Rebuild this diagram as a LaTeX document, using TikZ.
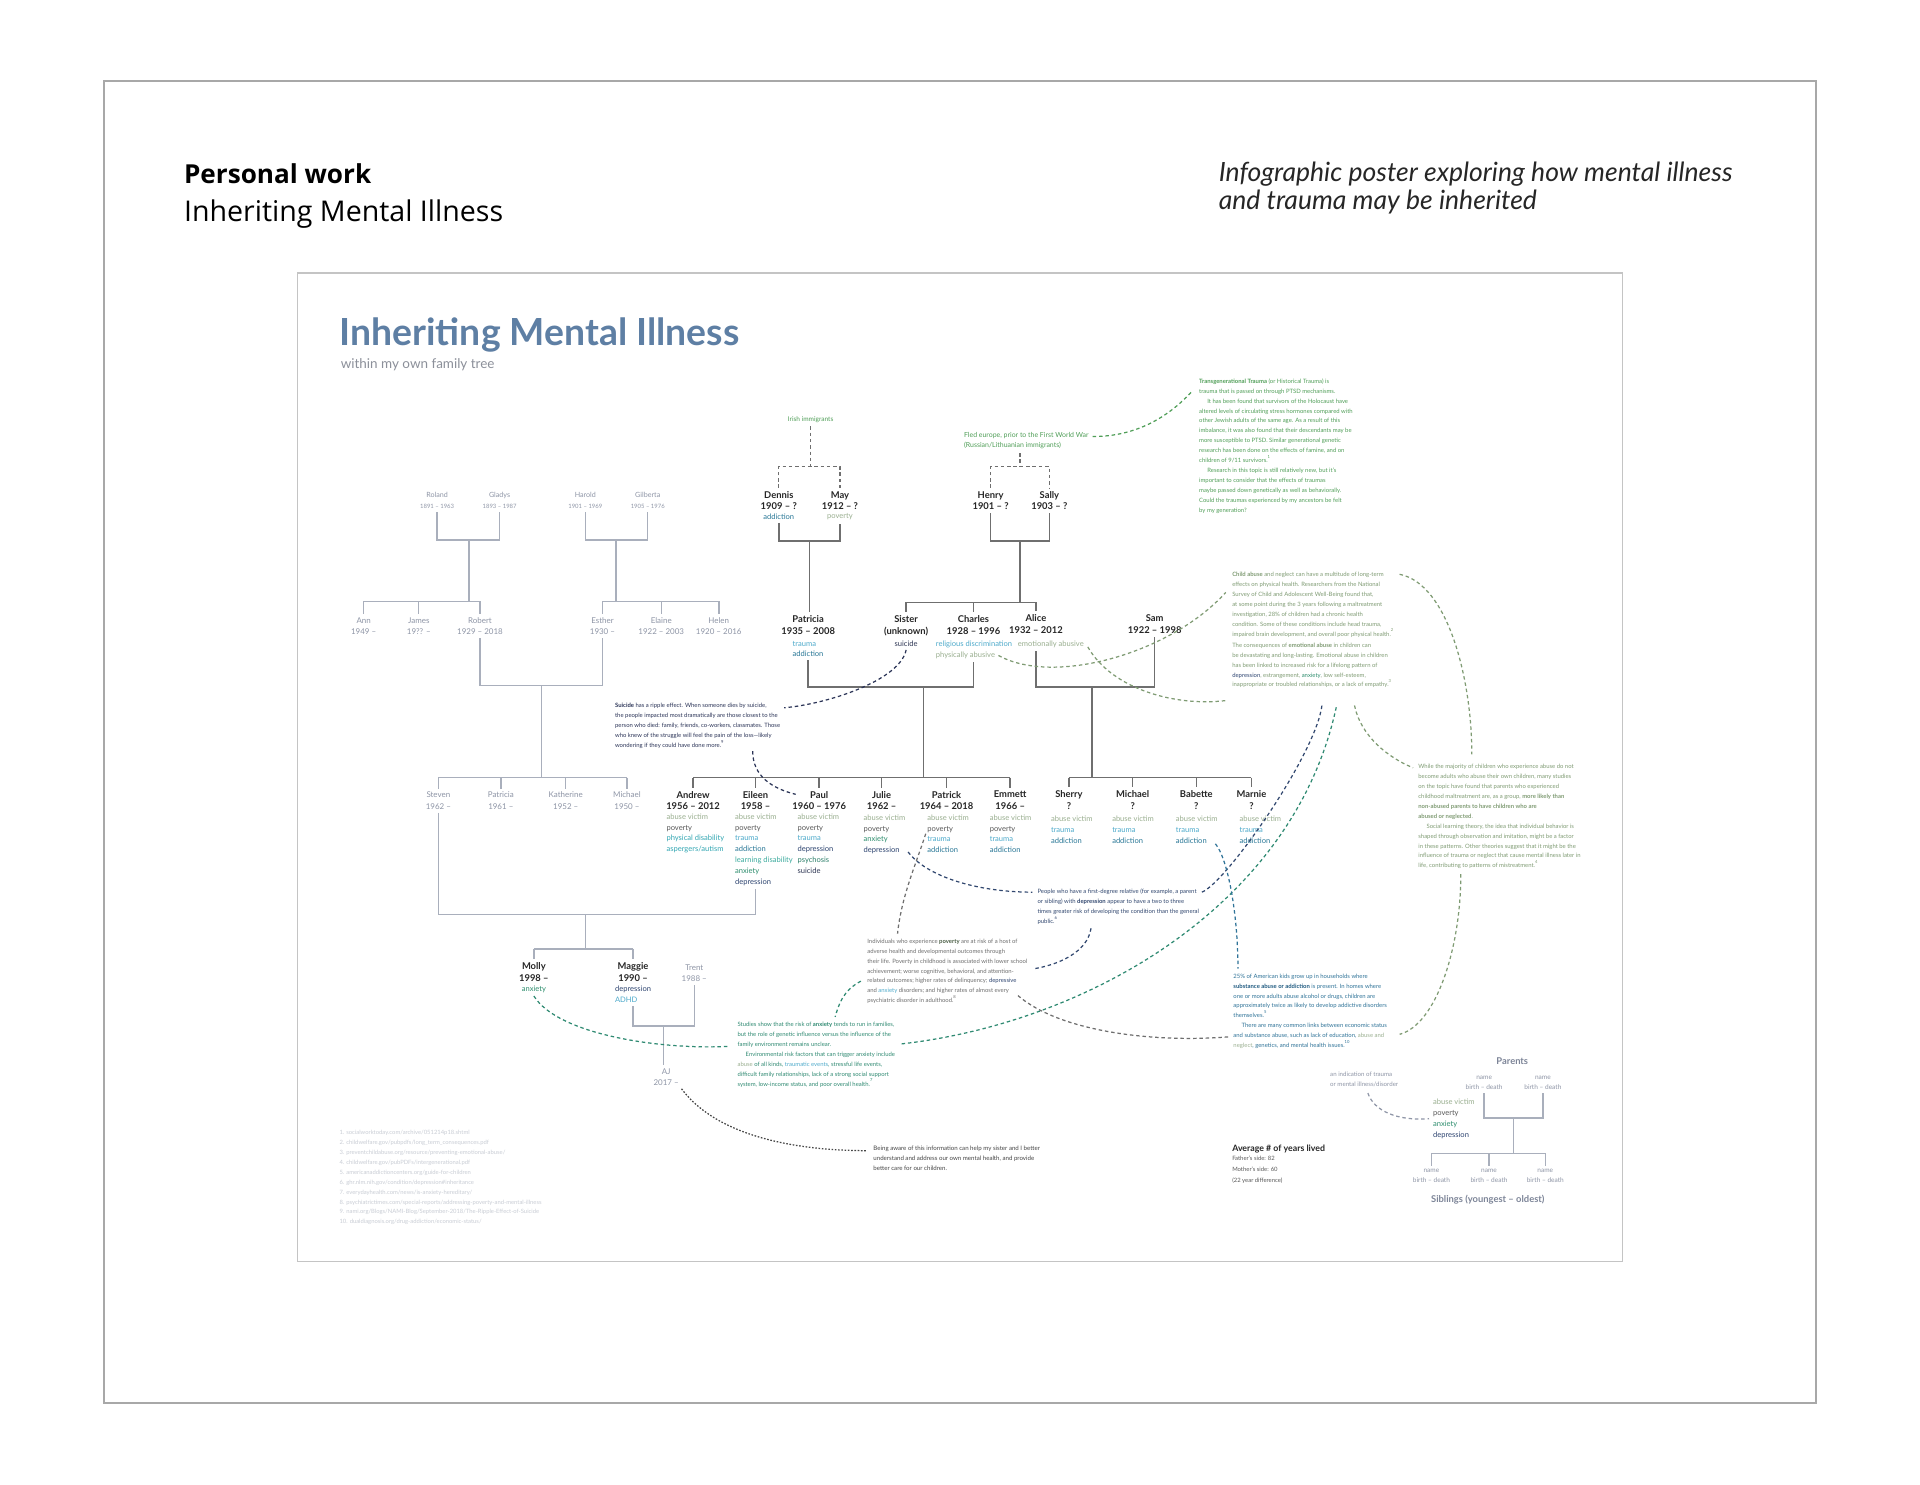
\documentclass[tikz,border=0pt]{standalone}
\usepackage{fontspec}
\setmainfont{Lato}
\newfontfamily\headfont{Open Sans}
\usetikzlibrary{positioning, calc}
\definecolor{framegray}{HTML}{A8A8A8}
\definecolor{postergray}{HTML}{C4C4C4}
\definecolor{titleblue}{HTML}{5E7FA4}
\definecolor{subgray}{HTML}{8C909A}
\definecolor{eldertext}{HTML}{8E95A6}
\definecolor{elderline}{HTML}{A9AFBC}
\definecolor{treegray}{HTML}{6F6F6F}
\definecolor{namedark}{HTML}{262626}
\definecolor{abusec}{HTML}{9AAF90}
\definecolor{povertyc}{HTML}{585858}
\definecolor{traumac}{HTML}{4EAACB}
\definecolor{addictc}{HTML}{2A7897}
\definecolor{disabc}{HTML}{33A7B3}
\definecolor{learnc}{HTML}{3CAB9E}
\definecolor{anxietyc}{HTML}{2E8E6E}
\definecolor{depressc}{HTML}{2D4470}
\definecolor{psychc}{HTML}{2E806B}
\definecolor{suicidec}{HTML}{2E3654}
\definecolor{greenc}{HTML}{4F9E57}
\definecolor{childc}{HTML}{7F9B73}
\definecolor{navynote}{HTML}{2B3457}
\definecolor{depnotec}{HTML}{31476F}
\definecolor{povnotec}{HTML}{6E6E6E}
\definecolor{povboldc}{HTML}{4A5E45}
\definecolor{anxnotec}{HTML}{2F8A72}
\definecolor{subnotec}{HTML}{2F7398}
\definecolor{subboldc}{HTML}{1F5A80}
\definecolor{footc}{HTML}{C9CDD5}
\definecolor{legendc}{HTML}{7D8598}
\definecolor{awarec}{HTML}{454545}
\newcommand{\notefont}{\fontsize{2.9}{4.85}\selectfont}
\newcommand{\namefont}{\fontsize{4.6}{5.6}\selectfont\bfseries}
\newcommand{\attrfont}{\fontsize{3.7}{5.3}\selectfont}
\newcommand{\elderfont}{\fontsize{3.5}{5.6}\selectfont}
\newcommand{\yearfont}{\fontsize{2.9}{5.6}\selectfont}
\newcommand{\kinfont}{\fontsize{3.9}{5.6}\selectfont}
\newcommand{\atAbuse}{\textcolor{abusec}{abuse victim}}
\newcommand{\atPoverty}{\textcolor{povertyc}{poverty}}
\newcommand{\atTrauma}{\textcolor{traumac}{trauma}}
\newcommand{\atAddict}{\textcolor{addictc}{addiction}}
\newcommand{\atAnxiety}{\textcolor{anxietyc}{anxiety}}
\newcommand{\atDepress}{\textcolor{depressc}{depression}}

\begin{document}
\begin{tikzpicture}[x=0.6pt, y=-0.6pt,
    elder/.style={font=\elderfont, text=eldertext, align=center, anchor=north, inner sep=0pt},
    kin/.style={font=\kinfont, text=eldertext, align=center, anchor=north, inner sep=0pt},
    person/.style={font=\namefont, text=namedark, align=center, anchor=north, inner sep=0pt},
    attrs/.style={font=\attrfont, align=left, anchor=north west, inner sep=0pt},
    note/.style={font=\notefont, align=left, anchor=north west, inner sep=0pt},
    oldline/.style={draw=elderline, line width=0.7pt},
    famline/.style={draw=treegray, line width=0.75pt},
    gap/.style={shorten <=1.5pt, shorten >=1.5pt},
    link/.style={dash pattern=on 1.7pt off 1.4pt, line width=0.6pt},
  ]
  \fill[white] (0,0) rectangle (1568,1212);
  \useasboundingbox (0,0) rectangle (1568,1212);
  % frames
  \draw[framegray, line width=0.8pt] (85,66) rectangle (1483,1146);
  \draw[postergray, line width=0.6pt] (243,223) rectangle (1325,1030);
  % header
  \node[anchor=base west, inner sep=0pt, text=black, font=\headfont\bfseries\fontsize{12.8}{14}\selectfont] (hdwork) at (150,150) {Personal work};
  \node[anchor=base west, inner sep=0pt, text=black, font=\headfont\fontsize{14}{15}\selectfont] (hdname) at (150,181) {Inheriting Mental Illness};
  \node[anchor=base west, inner sep=0pt, text=black!85, font=\itshape\fontsize{13}{14}\selectfont] (hdnote) at (995,148) {Infographic poster exploring how mental illness};
  \node[anchor=base west, inner sep=0pt, text=black!85, font=\itshape\fontsize{13}{14}\selectfont] (hdnote2) at (995,171) {and trauma may be inherited};
  % poster title
  \node[anchor=base west, inner sep=0pt, text=titleblue, font=\bfseries\fontsize{18.3}{20}\selectfont] (title) at (277,282) {Inheriting Mental Illness};
  \node[anchor=base west, inner sep=0pt, text=subgray, font=\fontsize{6.6}{7}\selectfont] (subtitle) at (278,301) {within my own family tree};

  % father's grandparents
  \node[elder] (roland) at (357,401.5) {Roland\\{\yearfont 1891 – 1963}};
  \node[elder] (gladys) at (408,401.5) {Gladys\\{\yearfont 1893 – 1987}};
  \node[elder] (harold) at (478,401.5) {Harold\\{\yearfont 1901 – 1969}};
  \node[elder] (gilberta) at (529,401.5) {Gilberta\\{\yearfont 1905 – 1976}};
  \coordinate (rgjoin) at (383,441);
  \coordinate (rgbar) at (383,491);
  \coordinate (hgjoin) at (503,441);
  \coordinate (hgbar) at (503,491);
  \node[kin] (ann) at (297,504) {Ann\\1949 –};
  \node[kin] (james) at (342,504) {James\\19?? –};
  \node[kin] (robert) at (392,504) {Robert\\1929 – 2018};
  \node[kin] (esther) at (492,504) {Esther\\1930 –};
  \node[kin] (elaine) at (540,504) {Elaine\\1922 – 2003};
  \node[kin] (helen) at (587,504) {Helen\\1920 – 2016};
  \draw[oldline, gap] (roland.south) |- (rgjoin) -| (gladys.south);
  \draw[oldline] (rgjoin) -- (rgbar);
  \draw[oldline] (ann.north |- rgbar) -- (robert.north |- rgbar);
  \draw[oldline, gap] (harold.south) |- (hgjoin) -| (gilberta.south);
  \draw[oldline] (hgjoin) -- (hgbar);
  \draw[oldline] (esther.north |- hgbar) -- (helen.north |- hgbar);
  \foreach \k in {ann, james, robert, esther, elaine, helen}
    \draw[oldline, shorten >=1.5pt] (\k.north |- rgbar) -- (\k.north);

  % robert + esther
  \coordinate (rejoin) at (442,560);
  \coordinate (rebar) at (442,635);
  \draw[oldline, gap] (robert.south) |- (rejoin) -| (esther.south);
  \draw[oldline] (rejoin) -- (rebar);
  \node[kin] (steven) at (358,646.5) {Steven\\1962 –};
  \node[kin] (patricia2) at (409,646.5) {Patricia\\1961 –};
  \node[kin] (katherine) at (462,646.5) {Katherine\\1952 –};
  \node[kin] (michael1) at (512,646.5) {Michael\\1950 –};
  \draw[oldline] (steven.north |- rebar) -- (michael1.north |- rebar);
  \foreach \k in {steven, patricia2, katherine, michael1}
    \draw[oldline, shorten >=1.5pt] (\k.north |- rebar) -- (\k.north);

  % mother's grandparents
  \node[note, text=greenc, anchor=north, font=\fontsize{3.2}{5}\selectfont] (irish) at (662,340) {Irish immigrants};
  \node[person] (dennis) at (636,401) {Dennis\\1909 – ?};
  \node[attrs, anchor=north] (dennisA) at (636,419.2) {\atAddict};
  \node[person] (may) at (686,401) {May\\1912 – ?};
  \node[attrs, anchor=north] (mayA) at (686,419.2) {\textcolor{abusec}{poverty}};
  \coordinate (irishjoin) at (662,381);
  \draw[famline, link, shorten <=1.5pt] (irish.south) -- (irishjoin);
  \draw[famline, link, gap] (dennis.north) |- (irishjoin) -| (may.north);
  \coordinate (dmjoin) at (661,442);
  \draw[famline, gap] (dennisA.south) |- (dmjoin) -| (mayA.south);
  \node[person] (patricia) at (660,502.5) {Patricia\\1935 – 2008};
  \draw[famline, shorten >=1.5pt] (dmjoin) -- (dmjoin |- patricia.north);
  \node[attrs] (patriciaA) at (647,523.2) {\atTrauma\\\atAddict};

  \node[note, text=greenc, font=\fontsize{3.4}{5}\selectfont] (fled) at (787,352.5) {Fled europe, prior to the First World War\\(Russian/Lithuanian immigrants)};
  \node[person] (henry) at (809,401) {Henry\\1901 – ?};
  \node[person] (sally) at (857,401) {Sally\\1903 – ?};
  \coordinate (fledjoin) at (833,381);
  \draw[famline, link, shorten <=2pt] (fledjoin |- fled.south) -- (fledjoin);
  \draw[famline, link, gap] (henry.north) |- (fledjoin) -| (sally.north);
  \coordinate (hsjoin) at (833,442);
  \coordinate (hsbar) at (833,492);
  \draw[famline, gap] (henry.south) |- (hsjoin) -| (sally.south);
  \draw[famline] (hsjoin) -- (hsbar);
  \node[person] (sister) at (740,502.5) {Sister\\(unknown)};
  \node[attrs, anchor=north] (sisterA) at (740,523.5) {\textcolor{suicidec}{suicide}};
  \node[person] (charles) at (795,502.5) {Charles\\1928 – 1996};
  \node[attrs] (charlesA) at (764,523.2) {\textcolor{traumac}{religious discrimination}\\\textcolor{abusec}{physically abusive}};
  \node[person] (alice) at (846,501.6) {Alice\\1932 – 2012};
  \node[attrs] (aliceA) at (831,523.2) {\textcolor{abusec}{emotionally abusive}};
  \draw[famline] (sister.north |- hsbar) -- (alice.north |- hsbar);
  \foreach \k in {sister, charles, alice}
    \draw[famline, shorten >=1.5pt] (\k.north |- hsbar) -- (\k.north);
  \node[person] (sam) at (943,502) {Sam\\1922 – 1998};

  % patricia + charles
  \coordinate (pcjoin) at (754,561);
  \coordinate (pcbar) at (754,635);
  \draw[famline, gap] (patricia.south |- patriciaA.south) |- (pcjoin) -| (charles.south |- charlesA.south);
  \draw[famline] (pcjoin) -- (pcbar);
  \foreach \k/\x/\who in {andrew/566/{Andrew\\1956 – 2012}, eileen/617/{Eileen\\1958 –},
      paul/669/{Paul\\1960 – 1976}, julie/720/{Julie\\1962 –},
      patrick/773/{Patrick\\1964 – 2018}, emmett/825/{Emmett\\1966 –}}
    \node[person] (\k) at (\x,645.7) {\who};
  \draw[famline] (andrew.north |- pcbar) -- (emmett.north |- pcbar);
  \foreach \k in {andrew, eileen, paul, julie, patrick, emmett}
    \draw[famline, shorten >=1.5pt] (\k.north |- pcbar) -- (\k.north);
  \node[attrs] (andrewA) at (544,664.2) {\atAbuse\\\atPoverty\\\textcolor{disabc}{physical disability}\\\textcolor{disabc}{aspergers/autism}};
  \node[attrs] (eileenA) at (600,664.2) {\atAbuse\\\atPoverty\\\atTrauma\\\atAddict\\\textcolor{learnc}{learning disability}\\\atAnxiety\\\atDepress};
  \node[attrs] (paulA) at (651,664.2) {\atAbuse\\\atPoverty\\\atTrauma\\\atDepress\\\textcolor{psychc}{psychosis}\\\textcolor{suicidec}{suicide}};
  \node[attrs] (julieA) at (705,665) {\atAbuse\\\atPoverty\\\atAnxiety\\\atDepress};
  \node[attrs] (patrickA) at (757,665) {\atAbuse\\\atPoverty\\\atTrauma\\\atAddict};
  \node[attrs] (emmettA) at (808,665) {\atAbuse\\\atPoverty\\\atTrauma\\\atAddict};

  % alice + sam
  \coordinate (asjoin) at (892,561);
  \coordinate (asbar) at (892,635);
  \draw[famline, gap] (alice.south |- aliceA.south) |- (asjoin) -| (sam.south);
  \draw[famline] (asjoin) -- (asbar);
  \foreach \k/\x/\who in {sherry/873/{Sherry\\?}, michael2/925/{Michael\\?},
      babette/977/{Babette\\?}, marnie/1022/{Marnie\\?}}
    \node[person] (\k) at (\x,645.5) {\who};
  \draw[famline] (sherry.north |- asbar) -- (marnie.north |- asbar);
  \foreach \k in {sherry, michael2, babette, marnie}
    \draw[famline, shorten >=1.5pt] (\k.north |- asbar) -- (\k.north);
  \foreach \k/\x in {sherryA/858, michael2A/908, babetteA/960, marnieA/1012}
    \node[attrs] (\k) at (\x,666.2) {\atAbuse\\\atTrauma\\\atAddict};

  % steven + eileen
  \coordinate (sejoin) at (478,747);
  \coordinate (sebar) at (478,775);
  \draw[oldline, gap] (steven.south) |- (sejoin) -| (eileen.south |- eileenA.south);
  \draw[oldline] (sejoin) -- (sebar);
  \node[person] (molly) at (436,786) {Molly\\1998 –};
  \node[attrs, anchor=north] (mollyA) at (436,805.2) {\atAnxiety};
  \node[person] (maggie) at (517,786) {Maggie\\1990 –};
  \node[attrs] (maggieA) at (502,805.2) {\atDepress\\\textcolor{traumac}{ADHD}};
  \draw[oldline] (molly.north |- sebar) -- (maggie.north |- sebar);
  \foreach \k in {molly, maggie}
    \draw[oldline, shorten >=1.5pt] (\k.north |- sebar) -- (\k.north);
  \node[kin] (trent) at (567,787.5) {Trent\\1988 –};
  \coordinate (mtjoin) at (542,838);
  \draw[oldline, gap] (maggie.south |- maggieA.south) |- (mtjoin) -| (trent.south);
  \node[kin] (aj) at (544,872.5) {AJ\\2017 –};
  \draw[oldline, shorten >=1.5pt] (mtjoin) -- (mtjoin |- aj.north);

  % notes
  \node[note, text=greenc] (trans) at (979,309) {\textbf{Transgenerational Trauma} (or Historical Trauma) is\\trauma that is passed on through PTSD mechanisms.\\\hspace*{4pt}It has been found that survivors of the Holocaust have\\altered levels of circulating stress hormones compared with\\other Jewish adults of the same age. As a result of this\\imbalance, it was also found that their descendants may be\\more susceptible to PTSD. Similar generational genetic\\research has been done on the effects of famine, and on\\children of 9/11 survivors.\textsuperscript{1}\\\hspace*{4pt}Research in this topic is still relatively new, but it’s\\important to consider that the effects of traumas\\maybe passed down genetically as well as behaviorally.\\Could the traumas experienced by my ancestors be felt\\by my generation?};
  \node[note, text=childc] (childnote) at (1006,467) {\textbf{Child abuse} and neglect can have a multitude of long-term\\effects on physical health. Researchers from the National\\Survey of Child and Adolescent Well-Being found that,\\at some point during the 3 years following a maltreatment\\investigation, 28\% of children had a chronic health\\condition. Some of these conditions include head trauma,\\impaired brain development, and overall poor physical health.\textsuperscript{2}};
  \node[note, text=childc] (emonote) at (1006,524.7) {The consequences of \textbf{emotional abuse} in children can\\be devastating and long-lasting. Emotional abuse in children\\has been linked to increased risk for a lifelong pattern of\\\textcolor{depressc}{depression}, estrangement, \textcolor{anxietyc}{anxiety}, low self-esteem,\\inappropriate or troubled relationships, or a lack of empathy.\textsuperscript{3}};
  \node[note, text=navynote] (suicidenote) at (502,574) {\textbf{Suicide} has a ripple effect. When someone dies by suicide,\\the people impacted most dramatically are those closest to the\\person who died: family, friends, co-workers, classmates. Those\\who knew of the struggle will feel the pain of the loss—likely\\wondering if they could have done more.\textsuperscript{9}};
  \node[note, text=childc] (whilenote) at (1158,624) {While the majority of children who experience abuse do not\\become adults who abuse their own children, many studies\\on the topic have found that parents who experienced\\childhood maltreatment are, as a group, \textbf{more likely than}\\\textbf{non-abused parents to have children who are}\\\textbf{abused or neglected}.\\\hspace*{4pt}Social learning theory, the idea that individual behavior is\\shaped through observation and imitation, might be a factor\\in these patterns. Other theories suggest that it might be the\\influence of trauma or neglect that cause mental illness later in\\life, contributing to patterns of mistreatment.\textsuperscript{4}};
  \node[note, text=depnotec] (depnote) at (847,725.6) {People who have a first-degree relative (for example, a parent\\or sibling) with \textbf{depression} appear to have a two to three\\times greater risk of developing the condition than the general\\public.\textsuperscript{6}};
  \node[note, text=povnotec] (povnote) at (708,766.5) {Individuals who experience \textbf{\textcolor{povboldc}{poverty}} are at risk of a host of\\adverse health and developmental outcomes through\\their life. Poverty in childhood is associated with lower school\\achievement; worse cognitive, behavioral, and attention-\\related outcomes; higher rates of delinquency; \textcolor{depressc}{depressive}\\and \textcolor{traumac}{anxiety} disorders; and higher rates of almost every\\psychiatric disorder in adulthood.\textsuperscript{8}};
  \node[note, text=anxnotec] (anxnote) at (602,834.5) {Studies show that the risk of \textbf{anxiety} tends to run in families,\\but the role of genetic influence versus the influence of the\\family environment remains unclear.\\\hspace*{4pt}Environmental risk factors that can trigger anxiety include\\\textcolor{abusec}{abuse} of all kinds, \textcolor{traumac}{traumatic events}, stressful life events,\\difficult family relationships, lack of a strong social support\\system, low-income status, and poor overall health.\textsuperscript{7}};
  \node[note, text=subnotec] (subnote) at (1007,795) {25\% of American kids grow up in households where\\\textbf{\textcolor{subboldc}{substance abuse or addiction}} is present. In homes where\\one or more adults abuse alcohol or drugs, children are\\approximately twice as likely to develop addictive disorders\\themselves.\textsuperscript{5}\\\hspace*{4pt}There are many common links between economic status\\and substance abuse, such as lack of education, \textcolor{abusec}{abuse and}\\\textcolor{abusec}{neglect}, genetics, and mental health issues.\textsuperscript{10}};
  \node[note, text=awarec, font=\fontsize{3}{4.85}\selectfont] (awarenote) at (713,935.7) {Being aware of this information can help my sister and I better\\understand and address our own mental health, and provide\\better care for our children.};

  % references
  \node[note, text=footc, font=\fontsize{2.87}{4.86}\selectfont] (refs) at (277,922.7) {1. socialworktoday.com/archive/051214p18.shtml\\2. childwelfare.gov/pubpdfs/long\_term\_consequences.pdf\\3. preventchildabuse.org/resource/preventing-emotional-abuse/\\4. childwelfare.gov/pubPDFs/intergenerational.pdf\\5. americanaddictioncenters.org/guide-for-children\\6. ghr.nlm.nih.gov/condition/depression\#inheritance\\7. everydayhealth.com/news/is-anxiety-hereditary/\\8. psychiatrictimes.com/special-reports/addressing-poverty-and-mental-illness\\9. nami.org/Blogs/NAMI-Blog/September-2018/The-Ripple-Effect-of-Suicide\\10. dualdiagnosis.org/drug-addiction/economic-status/};

  % average
  \node[note, text=namedark, font=\bfseries\fontsize{4.3}{5}\selectfont] (avgtitle) at (1006,934.8) {Average \# of years lived};
  \node[note, text=povertyc, font=\fontsize{2.9}{5.2}\selectfont, below=1.2pt of avgtitle.south west, anchor=north west] (avgdata) {Father’s side: 82\\Mother’s side: 60\\(22 year difference)};

  % legend
  \node[anchor=base, inner sep=0pt, text=legendc, font=\bfseries\fontsize{4.6}{5}\selectfont] (parentslabel) at (1235,869) {Parents};
  \node[elder, font=\fontsize{3.2}{4.9}\selectfont] (legpa) at (1212,878.5) {name\\birth – death};
  \node[elder, font=\fontsize{3.2}{4.9}\selectfont] (legpb) at (1260,878.5) {name\\birth – death};
  \coordinate (legjoin) at (1236,913);
  \coordinate (legbar) at (1236,942);
  \draw[oldline, gap] (legpa.south) |- (legjoin) -| (legpb.south);
  \draw[oldline] (legjoin) -- (legbar);
  \foreach \k/\x in {legk1/1169, legk2/1216, legk3/1262}
    \node[elder, font=\fontsize{3.2}{4.9}\selectfont] (\k) at (\x,954.5) {name\\birth – death};
  \draw[oldline] (legk1.north |- legbar) -- (legk3.north |- legbar);
  \foreach \k in {legk1, legk2, legk3}
    \draw[oldline, shorten >=1.5pt] (\k.north |- legbar) -- (\k.north);
  \node[anchor=base, inner sep=0pt, text=legendc, font=\bfseries\fontsize{4.6}{5}\selectfont] (siblabel) at (1215,982) {Siblings (youngest – oldest)};
  \node[note, text=eldertext, font=\fontsize{3}{4.85}\selectfont] (legtext) at (1086,875) {an indication of trauma\\or mental illness/disorder};
  \node[attrs] (legattr) at (1170,897.2) {\atAbuse\\\atPoverty\\\atAnxiety\\\atDepress};

  % dashed links
  \draw[link, greenc] ($(fled.north east)+(3,4)$) .. controls +(35,0) and +(-20,22) .. ($(trans.north west)+(-5,10)$);
  \draw[link, navynote] ($(sisterA.south)+(0,2)$) .. controls +(-5,25) and +(35,-3) .. ($(suicidenote.north east)+(3,4)$);
  \draw[link, navynote] ($(suicidenote.south)+(45,2)$) .. controls +(0,20) and +(-20,-5) .. ($(paul.north west)+(3,3)$);
  \draw[link, childc] ($(charlesA.south)+(20,-3)$) .. controls +(45,25) and +(-45,50) .. ($(childnote.west)+(-5,-10)$);
  \draw[link, childc] ($(aliceA.east)+(3,2)$) .. controls +(20,35) and +(-40,5) .. ($(emonote.south west)+(-5,10)$);
  \draw[link, childc] ($(childnote.north east)+(4,2)$) .. controls +(40,8) and +(0,-60) .. ($(whilenote.north west)+(44,-8)$);
  \draw[link, childc] ($(whilenote.south west)+(35,4)$) .. controls +(0,60) and +(30,-8) .. ($(subnote.south east)+(10,-12)$);
  \draw[link, childc] ($(emonote.south east)+(-31,14)$) .. controls +(5,25) and +(-20,-8) .. ($(whilenote.north west)+(-4,3)$);
  \draw[link, depnotec] ($(julieA.south east)+(2,-2)$) .. controls +(15,20) and +(-45,0) .. ($(depnote.north west)+(-4,3)$);
  \draw[link, depnotec] ($(depnote.north east)+(2,3)$) .. controls +(20,-8) and +(-5,40) .. ($(emonote.south)+(8,14)$);
  \draw[link, anxnotec] ($(anxnote.north east)+(5,18)$) .. controls +(150,-17) and +(-35,165) .. ($(emonote.south)+(20,14)$);
  \draw[link, anxnotec] ($(mollyA.south)+(0,2)$) .. controls +(20,32) and +(-55,3) .. ($(anxnote.north west)+(-6,20)$);
  \draw[link, povnotec] ($(patrickA.west)+(-1,0)$) .. controls +(-8,25) and +(3,-30) .. ($(povnote.north west)+(25,-4)$);
  \draw[link, povnotec] ($(povnote.south east)+(-8,-7)$) .. controls +(35,30) and +(-60,5) .. ($(subnote.south west)+(-3,-10)$);
  \draw[link, depnotec] ($(depnote.south west)+(44,3)$) .. controls +(-3,20) and +(20,-3) .. ($(povnote.east)+(4,-2)$);
  \draw[link, anxnotec] ($(povnote.west)+(-5,8)$) .. controls +(-15,8) and +(3,-10) .. ($(anxnote.north west)+(80,-4)$);
  \draw[link, subnotec] ($(babetteA.south east)+(-2,0)$) .. controls +(10,12) and +(0,-45) .. ($(subnote.north west)+(4,-4)$);
  \draw[awarec, line width=0.6pt, dash pattern=on 0.8pt off 0.8pt] ($(aj.south east)+(2,2)$) .. controls +(30,40) and +(-55,0) .. ($(awarenote.north west)+(-5,4)$);
  \draw[link, eldertext] ($(legtext.south)+(3,5)$) .. controls +(5,15) and +(-25,2) .. ($(legattr.west)+(-3,0)$);
\end{tikzpicture}
\end{document}
